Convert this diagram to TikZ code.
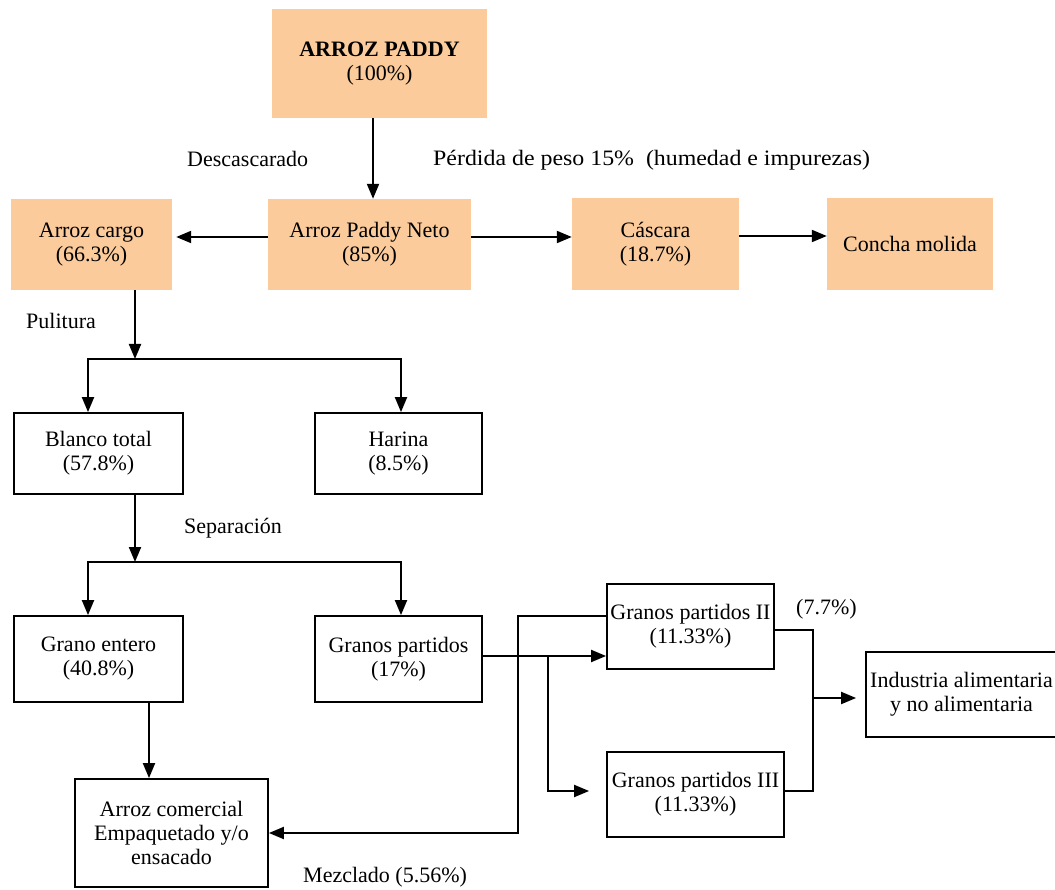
\documentclass[tikz,border=0pt]{standalone}
\usepackage{fontspec}
\setmainfont{Liberation Serif}
\usetikzlibrary{arrows.meta}
\definecolor{peach}{RGB}{251,203,156}
\begin{document}
\begin{tikzpicture}[x=1pt,y=-1pt,
  every node/.style={font=\fontsize{22}{24}\selectfont},
  obox/.style={fill=peach, align=center, inner sep=0pt},
  wbox/.style={draw=black, line width=1.8pt, fill=white, align=center, inner sep=0pt},
  lbl/.style={anchor=west, inner sep=0pt},
  link/.style={line width=2pt},
  arr/.style={link, -{Triangle[length=15pt,width=12pt]}}]

\useasboundingbox (0,0) rectangle (1055,890);
\fill[white] (0,0) rectangle (1055,890);

% husking stage
\node[obox, minimum width=215pt, minimum height=109pt] (paddy) at (379.5,63.5) {\textbf{ARROZ PADDY}\\(100\%)};
\node[obox, minimum width=161pt, minimum height=91pt] (cargo) at (91.5,244.5) {Arroz cargo\\(66.3\%)};
\node[obox, minimum width=203pt, minimum height=91pt] (neto) at (369.5,244.5) {Arroz Paddy Neto\\(85\%)};
\node[obox, minimum width=167pt, minimum height=92pt] (cascara) at (655.5,244) {Cáscara\\(18.7\%)};
\node[obox, minimum width=166pt, minimum height=92pt] (concha) at (910,244) {Concha molida};

% polishing and separation
\node[wbox, minimum width=169pt, minimum height=81pt] (bt) at (98.5,453.5) {Blanco total\\(57.8\%)};
\node[wbox, minimum width=167pt, minimum height=81pt] (har) at (398.5,453.5) {Harina\\(8.5\%)};
\node[wbox, minimum width=169pt, minimum height=86pt] (ge) at (98.5,659) {Grano entero\\(40.8\%)};
\node[wbox, minimum width=167pt, minimum height=86pt] (gp) at (398.5,659) {Granos partidos\\(17\%)};
\node[wbox, minimum width=193pt, minimum height=108pt] (ac) at (171.5,833) {Arroz comercial\\Empaquetado y/o\\ensacado};
\node[wbox, minimum width=167pt, minimum height=85pt] (gp2) at (690.5,626.5) {Granos partidos II\\(11.33\%)};
\node[wbox, minimum width=177pt, minimum height=85pt] (gp3) at (695.5,794.5) {Granos partidos III\\(11.33\%)};
\node[wbox, minimum width=191pt, minimum height=85pt] (ind) at (961.5,694.5) {Industria alimentaria\\y no alimentaria};

% step labels
\node[lbl] (desc) at (187,159) {Descascarado};
\node[lbl] (perd) at (433,160) {\scalebox{1.085}[1]{Pérdida de peso 15\%\ \ (humedad e impurezas)}};
\node[lbl] (pul) at (26,321) {Pulitura};
\node[lbl] (sep) at (184,528) {Separación};
\node[lbl] (p77) at (796,609) {(7.7\%)};
\node[lbl] (mez) at (303,877) {Mezclado (5.56\%)};

% guide coordinates for the connectors
\coordinate (t1) at (373,0);
\coordinate (r1) at (0,237);
\coordinate (r2) at (0,236);
\coordinate (j1) at (135,359);
\coordinate (j1l) at (88,359);
\coordinate (j1r) at (401,359);
\coordinate (j2) at (135,562);
\coordinate (j2l) at (88,562);
\coordinate (j2r) at (401,562);
\coordinate (d1) at (149,0);
\coordinate (b1) at (548,656);
\coordinate (b2) at (548,791);
\coordinate (m1) at (518,616);
\coordinate (m2) at (518,833);
\coordinate (c1) at (813,630);
\coordinate (c2) at (813,791);
\coordinate (c3) at (813,698);

% husking
\draw[arr] (paddy.south -| t1) -- (neto.north -| t1);
\draw[arr, shorten >=4pt] (neto.west |- r1) -- (cargo.east |- r1);
\draw[arr] (neto.east |- r1) -- (cascara.west |- r1);
\draw[arr] (cascara.east |- r2) -- (concha.west |- r2);

% polishing
\draw[arr] (cargo.south -| j1) -- (j1);
\draw[arr] (j1) -- (j1l) -- (j1l |- bt.north);
\draw[arr] (j1) -- (j1r) -- (j1r |- har.north);

% separation
\draw[arr] (bt.south -| j2) -- (j2);
\draw[arr] (j2) -- (j2l) -- (j2l |- ge.north);
\draw[arr] (j2) -- (j2r) -- (j2r |- gp.north);
\draw[arr] (ge.south -| d1) -- (ac.north -| d1);

% broken grain grading
\draw[arr] (gp.east |- b1) -- (gp2.west |- b1);
\draw[arr, shorten >=17pt] (b1) -- (b2) -- (gp3.west |- b2);

% blending back into commercial rice
\draw[arr] (gp2.west |- m1) -- (m1) -- (m2) -- (ac.east |- m2);

% industrial use
\draw[link] (gp2.east |- c1) -- (c1) -- (c2) -- (gp3.east |- c2);
\draw[arr, shorten >=9pt] (c3) -- (ind.west |- c3);
\end{tikzpicture}
\end{document}
